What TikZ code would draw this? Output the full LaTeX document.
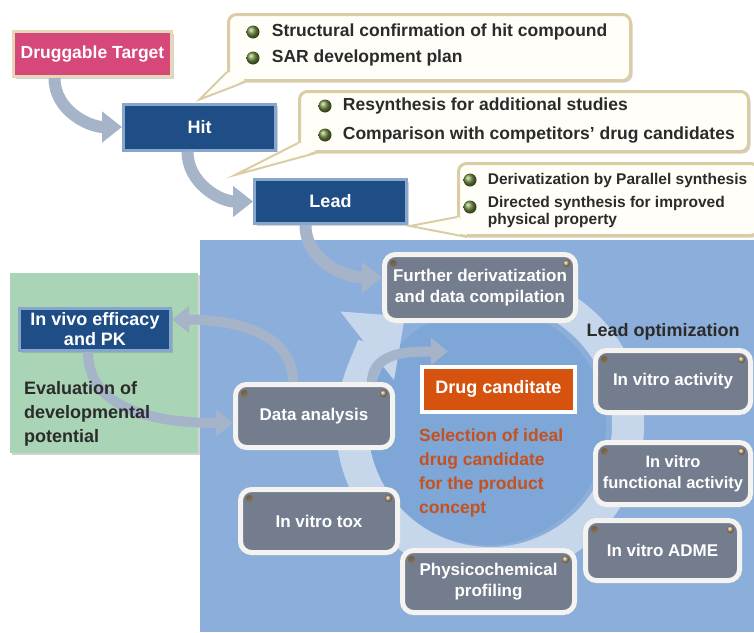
\documentclass[tikz,border=0pt]{standalone}
\usepackage{fontspec}
\setmainfont{Liberation Sans}
\usepackage{tikz}
\usetikzlibrary{positioning,arrows.meta,shadows}

\definecolor{targetpink}{HTML}{D6487A}
\definecolor{targetrim}{HTML}{E6D8B6}
\definecolor{darkblue}{HTML}{1F4E87}
\definecolor{darkrim}{HTML}{86A6CC}
\definecolor{callrim}{HTML}{DACDA6}
\definecolor{callfill}{HTML}{FFFEF8}
\definecolor{bulletgreen}{HTML}{6F8C3E}
\definecolor{panelblue}{HTML}{8BAFDA}
\definecolor{innerblue}{HTML}{7EA6D6}
\definecolor{ringblue}{HTML}{C7D7EB}
\definecolor{panelgreen}{HTML}{A9D4B5}
\definecolor{stagegray}{HTML}{737D8E}
\definecolor{stagerim}{HTML}{F4F3EF}
\definecolor{pincol}{HTML}{C2A676}
\definecolor{drugorange}{HTML}{D6530F}
\definecolor{selectorange}{HTML}{C5511E}
\definecolor{flowgray}{HTML}{A6B4CA}
\definecolor{darktext}{HTML}{2B2B2B}

\tikzset{
  boxshadow/.style={drop shadow={shadow xshift=2pt,shadow yshift=-2pt,opacity=.35}},
  targetbox/.style={draw=targetrim, line width=3pt, fill=targetpink, text=white,
    font=\bfseries\fontsize{17.5}{21}\selectfont, minimum width=158pt, minimum height=45pt, boxshadow},
  darkbox/.style={draw=darkrim, line width=3pt, fill=darkblue, text=white, align=center, inner sep=1pt,
    font=\bfseries\fontsize{18}{20}\selectfont, minimum width=152pt, minimum height=46pt, boxshadow},
  stage/.style={rounded corners=11pt, draw=stagerim, line width=5pt, fill=stagegray, text=white,
    align=center, inner sep=2pt, font=\bfseries\fontsize{17}{21}\selectfont, boxshadow,
    path picture={
      \shade[ball color=pincol] ([xshift=9pt,yshift=-9pt]path picture bounding box.north west) circle (3.5pt);
      \shade[ball color=pincol] ([xshift=-9pt,yshift=-9pt]path picture bounding box.north east) circle (3.5pt);
    }},
  drugbox/.style={draw=white, line width=4pt, fill=drugorange, text=white,
    font=\bfseries\fontsize{18}{21}\selectfont, minimum width=153pt, minimum height=45pt},
  callout/.style={rounded corners=8pt, draw=callrim, line width=3pt, fill=callfill, boxshadow},
  bulletdot/.style={circle, inner sep=0pt, minimum size=13pt, ball color=bulletgreen},
  calltext/.style={inner sep=0pt, text=darktext, font=\bfseries\fontsize{17.5}{21}\selectfont},
  smalltext/.style={inner sep=0pt, text=darktext, align=left, font=\bfseries\fontsize{15.5}{17.5}\selectfont},
  labeltext/.style={inner sep=0pt, text=darktext, font=\bfseries\fontsize{18}{24}\selectfont},
  selecttext/.style={inner sep=0pt, text=selectorange, align=left, font=\bfseries\fontsize{17.5}{24}\selectfont},
  flow/.style={draw=flowgray, line width=12pt, -{Triangle[length=20pt,width=30pt]}},
  thinflow/.style={draw=flowgray, line width=10pt, -{Triangle[length=17pt,width=26pt]}},
  ringflow/.style={draw=ringblue, line width=32pt, -{Triangle[length=48pt,width=84pt]}}
}

\begin{document}
\begin{tikzpicture}[x=1pt,y=1pt,node distance=12pt]
  \useasboundingbox (0,0) rectangle (754,-632);

  \fill[panelblue] (200,-240) rectangle (754,-632);
  \fill[panelgreen, boxshadow] (10,-273) rectangle (198,-453);
  \coordinate (ringc) at (490,-425);
  \fill[innerblue] (487,-426) circle (119);
  \draw[ringflow] (ringc) ++(75:138) arc[start angle=75, end angle=-232, radius=138];

  \node[targetbox] (target) at (92.5,-54) {Druggable Target};
  \node[darkbox] (hit) at (199.5,-127) {Hit};
  \node[darkbox, minimum height=44pt] (lead) at (330.5,-201.5) {Lead};
  \node[darkbox, minimum width=151pt, minimum height=42pt] (invivo) at (95,-329.5) {In vivo efficacy\\and PK};

  \node[callout, minimum width=402pt, minimum height=66pt] (call1) at (429.5,-47.5) {};
  \node[callout, minimum width=449pt, minimum height=60pt] (call2) at (524,-121.5) {};
  \node[callout, minimum width=300pt, minimum height=72pt] (call3) at (608.5,-199.5) {};

  \coordinate (tip1) at ([yshift=3pt]hit.north);
  \fill[callfill] (tip1) -- ([xshift=2pt,yshift=10pt]call1.south west) -- ([xshift=18pt,yshift=2pt]call1.south west) -- cycle;
  \draw[callrim, line width=2pt] ([yshift=10pt]call1.south west) -- (tip1) -- ([xshift=18pt]call1.south west);
  \coordinate (tip2) at ([xshift=-18pt,yshift=3pt]lead.north west);
  \fill[callfill] (tip2) -- ([xshift=2pt,yshift=10pt]call2.south west) -- ([xshift=18pt,yshift=2pt]call2.south west) -- cycle;
  \draw[callrim, line width=2pt] ([yshift=10pt]call2.south west) -- (tip2) -- ([xshift=18pt]call2.south west);
  \coordinate (tip3) at ([xshift=2pt,yshift=-1pt]lead.south east);
  \fill[callfill] (tip3) -- ([xshift=2pt,yshift=20pt]call3.south west) -- ([xshift=10pt,yshift=2pt]call3.south west) -- cycle;
  \draw[callrim, line width=2pt] ([yshift=20pt]call3.south west) -- (tip3) -- ([xshift=10pt]call3.south west);

  \node[bulletdot] (b11) at (253,-32) {};
  \node[calltext, right=12pt of b11] (t11) {Structural confirmation of hit compound};
  \node[bulletdot] (b12) at (253,-58) {};
  \node[calltext, right=12pt of b12] (t12) {SAR development plan};
  \node[bulletdot] (b21) at (325,-106) {};
  \node[calltext, right=11pt of b21] (t21) {Resynthesis for additional studies};
  \node[bulletdot] (b22) at (325,-135) {};
  \node[calltext, right=11pt of b22] (t22) {Comparison with competitors’ drug candidates};
  \node[bulletdot] (b31) at (470,-180) {};
  \node[smalltext, right=11pt of b31] (t31) {Derivatization by Parallel synthesis};
  \node[bulletdot] (b32) at (470,-207) {};
  \node[smalltext, anchor=north west] (t32) at ([xshift=11pt,yshift=11pt]b32.east) {Directed synthesis for improved\\physical property};

  \node[stage, minimum width=191pt, minimum height=66pt] (further) at (480,-287.5) {Further derivatization\\and data compilation};
  \node[stage, minimum width=157pt, minimum height=63pt] (data) at (314,-416) {Data analysis};
  \node[stage, minimum width=157pt, minimum height=63pt] (tox) at (319,-521) {In vitro tox};
  \node[stage, minimum width=172pt, minimum height=62pt] (physico) at (488.5,-581.5) {Physicochemical\\profiling};
  \node[stage, minimum width=155pt, minimum height=62pt] (activity) at (673,-381.5) {In vitro activity};
  \node[stage, minimum width=155pt, minimum height=62pt, below=25pt of activity,
        font=\bfseries\fontsize{16.5}{21}\selectfont] (functional) {In vitro\\functional activity};
  \node[stage, minimum width=154pt, minimum height=60pt] (adme) at (662.5,-550.5) {In vitro ADME};
  \node[labeltext, above=8pt of activity, xshift=-10pt] (leadopt) {Lead optimization};

  \node[drugbox] (drug) at (498.5,-389) {Drug canditate};
  \node[selecttext, anchor=north west] (select) at ([xshift=-1pt,yshift=-15pt]drug.south west)
    {Selection of ideal\\drug candidate\\for the product\\concept};

  \draw[flow] ([xshift=-38pt]target.south) to[out=-90,in=180] (hit.west);
  \draw[flow] ([xshift=-12pt]hit.south) to[out=-90,in=180] (lead.west);
  \draw[flow] ([xshift=-25pt]lead.south) to[out=-90,in=180] ([yshift=10pt]further.west);
  \draw[thinflow] ([xshift=-21pt]data.north) to[out=90,in=0] ([yshift=10pt]invivo.east);
  \draw[thinflow] ([xshift=58pt]data.north) to[out=90,in=180] ([xshift=28pt,yshift=13pt]drug.north west);
  \draw[thinflow] ([xshift=-7pt]invivo.south) to[out=-90,in=180] ([yshift=-7pt]data.west);

  \node[labeltext, align=left, anchor=west] (evaltext) at (24,-414) {Evaluation of\\developmental\\potential};
\end{tikzpicture}
\end{document}
